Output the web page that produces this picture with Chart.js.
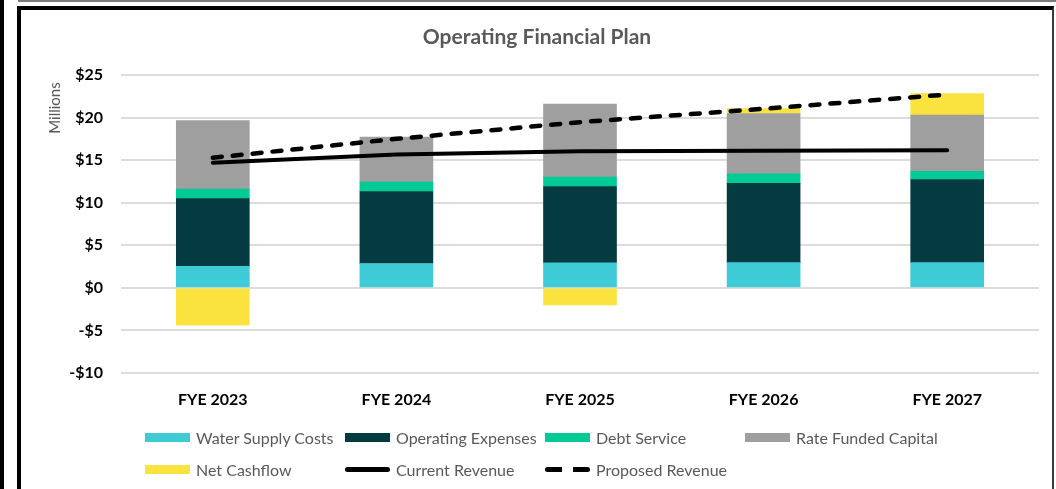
<!DOCTYPE html>
<html lang="en">
<head>
  <meta charset="UTF-8" />
  <title>Operating Financial Plan</title>
  <script src="https://cdn.jsdelivr.net/npm/chart.js"></script>
  <style>
    body {
      margin: 0;
      width: 1056px;
      height: 489px;
      overflow: hidden;
      background: #fff;
      position: relative;
      font-family: 'Lato', sans-serif;
    }
    .edge-left { position: absolute; left: 0; top: 0; width: 4px; height: 489px; background: #000; }
    .edge-top { position: absolute; left: 18px; top: 0; width: 1038px; height: 2px; background: #7a7a7a; }
    .frame {
      position: absolute;
      left: 17px;
      top: 6px;
      width: 1031px;
      height: 520px;
      border-top: 4px solid #000;
      border-left: 4px solid #000;
      border-right: 2px solid #3a3a3a;
    }
    #wrap { position: absolute; left: 0; top: 0; width: 1056px; height: 489px; }
    .legend { position: absolute; left: 0; top: 0; }
    .legend .item {
      position: absolute;
      display: flex;
      align-items: center;
      font-size: 16px;
      color: #595959;
      white-space: nowrap;
      height: 20px;
    }
    .legend .swatch { width: 45px; height: 9px; margin-right: 6px; }
  </style>
</head>
<body>
  <div class="edge-left"></div>
  <div class="edge-top"></div>
  <div class="frame"></div>
  <div id="wrap"><canvas id="chart" width="1056" height="489"></canvas></div>
  <div class="legend" id="legend"></div>

  <script>
    const years = ["FYE 2023", "FYE 2024", "FYE 2025", "FYE 2026", "FYE 2027"];
    const waterSupply = [2.54, 2.86, 2.94, 2.97, 2.97];
    const operatingExpenses = [7.95, 8.46, 8.96, 9.32, 9.76];
    const debtService = [1.10, 1.09, 1.10, 1.11, 0.97];
    const rateFundedCapital = [8.07, 5.29, 8.57, 7.08, 6.58];
    const netCashflow = [-4.39, null, -2.0, 0.59, 2.55];
    const currentRevenue = [14.7, 15.65, 16.05, 16.1, 16.15];
    const proposedRevenue = [15.28, 17.5, 19.46, 21.03, 22.71];
    const yTicks = [-10, -5, 0, 5, 10, 15, 20, 25];

    const bar = (label, data, color) => ({
      type: 'bar', label, data, backgroundColor: color,
      stack: 'costs', order: 1, barThickness: 73
    });

    const datasets = [
      bar('Water Supply Costs', waterSupply, '#3ecbd5'),
      bar('Operating Expenses', operatingExpenses, '#033b40'),
      bar('Debt Service', debtService, '#00cb96'),
      bar('Rate Funded Capital', rateFundedCapital, '#9f9f9f'),
      bar('Net Cashflow', netCashflow, '#fae33f'),
      {
        type: 'line', label: 'Current Revenue', data: currentRevenue,
        borderColor: '#000', borderWidth: 4, pointRadius: 0,
        borderCapStyle: 'round', stack: 'cur', order: 0, tension: 0
      },
      {
        type: 'line', label: 'Proposed Revenue', data: proposedRevenue,
        borderColor: '#000', borderWidth: 4.5, pointRadius: 0,
        borderDash: [9, 11], borderCapStyle: 'round', stack: 'prop', order: 0, tension: 0
      }
    ];

    // title + "Millions" drawn at fixed spots like the original
    const extras = {
      id: 'extras',
      afterDraw(chart) {
        const ctx = chart.ctx;
        ctx.save();
        ctx.fillStyle = '#595959';
        ctx.textAlign = 'center';
        ctx.textBaseline = 'middle';
        ctx.font = 'bold 21px Lato';
        ctx.fillText('Operating Financial Plan', 537, 37);
        ctx.translate(55, 108);
        ctx.rotate(-Math.PI / 2);
        ctx.font = '15px Lato';
        ctx.fillText('Millions', 0, 0);
        ctx.restore();
      }
    };

    const chart = new Chart(document.getElementById('chart'), {
      type: 'bar',
      data: { labels: years, datasets },
      options: {
        responsive: false,
        animation: false,
        layout: { padding: { top: 75, right: 17, left: 0, bottom: 0 } },
        plugins: { legend: { display: false }, title: { display: false }, tooltip: { enabled: false } },
        scales: {
          x: {
            stacked: true,
            grid: { display: false, drawTicks: false },
            border: { display: false },
            ticks: { color: '#000', font: { family: 'Lato', size: 16, weight: 'bold' }, padding: 17 },
            afterFit(scale) { scale.height = 116; }
          },
          y: {
            stacked: true,
            min: -10,
            max: 25,
            afterBuildTicks(scale) { scale.ticks = yTicks.map(v => ({ value: v })); },
            grid: { color: '#dcdcdc', lineWidth: 2, drawTicks: false },
            border: { display: false },
            ticks: {
              color: '#000',
              font: { family: 'Lato', size: 16, weight: 'bold' },
              padding: 18,
              callback: v => (v < 0 ? '-$' + Math.abs(v) : '$' + v)
            },
            afterFit(scale) { scale.width = 121; }
          }
        }
      },
      plugins: [extras]
    });

    // legend in fixed columns, like the spreadsheet legend
    const legendEl = document.getElementById('legend');
    const cols = [145, 345, 545, 745];
    const rows = [437, 469];
    datasets.forEach((ds, i) => {
      const item = document.createElement('div');
      item.className = 'item';
      item.style.left = cols[i % 4] + 'px';
      item.style.top = (rows[Math.floor(i / 4)] - 10) + 'px';
      const sw = document.createElement('span');
      sw.className = 'swatch';
      if (ds.type === 'bar') {
        sw.style.background = ds.backgroundColor;
      } else if (ds.borderDash) {
        sw.style.height = '5px';
        sw.style.background = 'linear-gradient(90deg, #000 0 17px, transparent 17px 28px, #000 28px 45px)';
        sw.style.borderRadius = '3px';
      } else {
        sw.style.height = '5px';
        sw.style.background = '#000';
        sw.style.borderRadius = '3px';
      }
      item.appendChild(sw);
      item.appendChild(document.createTextNode(ds.label));
      legendEl.appendChild(item);
    });
  </script>
</body>
</html>
